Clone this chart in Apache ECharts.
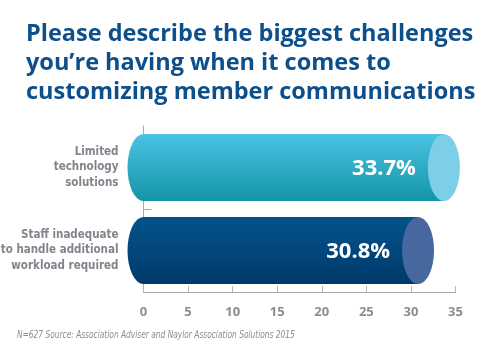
<!DOCTYPE html>
<html>
<head>
<meta charset="utf-8">
<script src="https://cdn.jsdelivr.net/npm/echarts@6/dist/echarts.min.js"></script>
<style>
html,body{margin:0;padding:0;background:#fff;}
#chart{width:499px;height:354px;}
</style>
</head>
<body>
<div id="chart"></div>
<script>
var categories = ['Limited\ntechnology\nsolutions', 'Staff inadequate\nto handle additional\nworkload required'];
var values = [33.7, 30.8];
var bodyTop = ['#4ac3e3', '#04538c'];
var bodyBottom = ['#1494a7', '#003a6b'];
var capColors = ['#7dcfe8', '#47689e'];
var xTicks = [0, 5, 10, 15, 20, 25, 30, 35];
var titleText = 'Please describe the biggest challenges\nyou\u2019re having when it comes to\ncustomizing member communications';
var footText = 'N=627 Source: Association Adviser and Naylor Association Solutions 2015';

var chart = echarts.init(document.getElementById('chart'), null, {renderer: 'canvas'});

var catsRev = categories.slice().reverse();
var data = values.map(function (v, i) { return [v, categories[i], i]; });

var condensed = '"DejaVu Sans Condensed", "Roboto", sans-serif';

var option = {
  animation: false,
  backgroundColor: '#ffffff',
  title: [{
    text: titleText,
    left: 21,
    top: 15,
    textStyle: {
      fontFamily: 'Open Sans',
      fontWeight: 'bold',
      fontSize: 23.5,
      lineHeight: 29,
      color: '#0c4f8b'
    }
  }],
  graphic: [{
    type: 'text',
    left: 17,
    top: 330,
    scaleX: 0.79,
    style: {
      text: footText,
      font: 'italic 10.5px ' + condensed,
      fill: '#8a8d92'
    }
  }],
  grid: {left: 143.5, right: 43.5, top: 126, bottom: 62, containLabel: false, outerBoundsMode: 'none'},
  xAxis: {
    type: 'value',
    min: xTicks[0],
    max: xTicks[xTicks.length - 1],
    interval: 5,
    offset: 7,
    axisLine: {show: true, lineStyle: {color: '#a7a9ac', width: 1}},
    axisTick: {show: true, inside: true, length: 6, lineStyle: {color: '#b4b6b9'}},
    splitLine: {show: false},
    axisLabel: {
      margin: 7,
      fontFamily: 'Open Sans',
      fontWeight: 'bold',
      fontSize: 13,
      color: '#8a8d92'
    }
  },
  yAxis: [{
    type: 'category',
    data: catsRev,
    axisLine: {show: true, lineStyle: {color: '#a7a9ac', width: 1}},
    axisTick: {show: false},
    axisLabel: {
      margin: 25,
      fontFamily: condensed,
      fontWeight: 'bold',
      fontSize: 11.5,
      lineHeight: 15.5,
      align: 'right',
      color: '#80848b'
    }
  }, {
    type: 'value',
    position: 'left',
    min: 0,
    max: 2,
    interval: 1,
    axisLine: {show: false},
    splitLine: {show: false},
    axisLabel: {show: false},
    axisTick: {show: true, inside: true, length: 8, customValues: [1], lineStyle: {color: '#a7a9ac'}}
  }],
  series: [{
    type: 'custom',
    data: data,
    encode: {x: 0, y: 1},
    renderItem: function (params, api) {
      var v = api.value(0);
      var idx = api.value(2);
      var cat = categories[idx];
      var p0 = api.coord([0, cat]);
      var pv = api.coord([v, cat]);
      var band = api.size([0, 1])[1];
      var h = band * 0.81;
      var ry = h / 2;
      var rx = 16;
      var x0 = p0[0], xv = pv[0], cy = pv[1];
      var yT = cy - ry, yB = cy + ry;
      var body = 'M' + x0 + ' ' + yT + ' L' + xv + ' ' + yT + ' L' + xv + ' ' + yB +
        ' L' + x0 + ' ' + yB + ' A' + rx + ' ' + ry + ' 0 0 1 ' + x0 + ' ' + yT + ' Z';
      var cap = 'M' + xv + ' ' + yT + ' A' + rx + ' ' + ry + ' 0 0 1 ' + xv + ' ' + yB +
        ' A' + rx + ' ' + ry + ' 0 0 1 ' + xv + ' ' + yT + ' Z';
      return {
        type: 'group',
        children: [{
          type: 'path',
          shape: {pathData: body},
          style: {
            fill: new echarts.graphic.LinearGradient(0, 0, 0, 1, [
              {offset: 0, color: bodyTop[idx]},
              {offset: 1, color: bodyBottom[idx]}
            ])
          }
        }, {
          type: 'path',
          shape: {pathData: cap},
          style: {fill: capColors[idx]}
        }, {
          type: 'text',
          style: {
            text: v.toFixed(1) + '%',
            x: xv - rx - 12,
            y: cy + 1,
            align: 'right',
            verticalAlign: 'middle',
            fill: '#ffffff',
            font: 'bold 22px "Open Sans"'
          }
        }]
      };
    }
  }]
};
chart.setOption(option);
</script>
</body>
</html>
